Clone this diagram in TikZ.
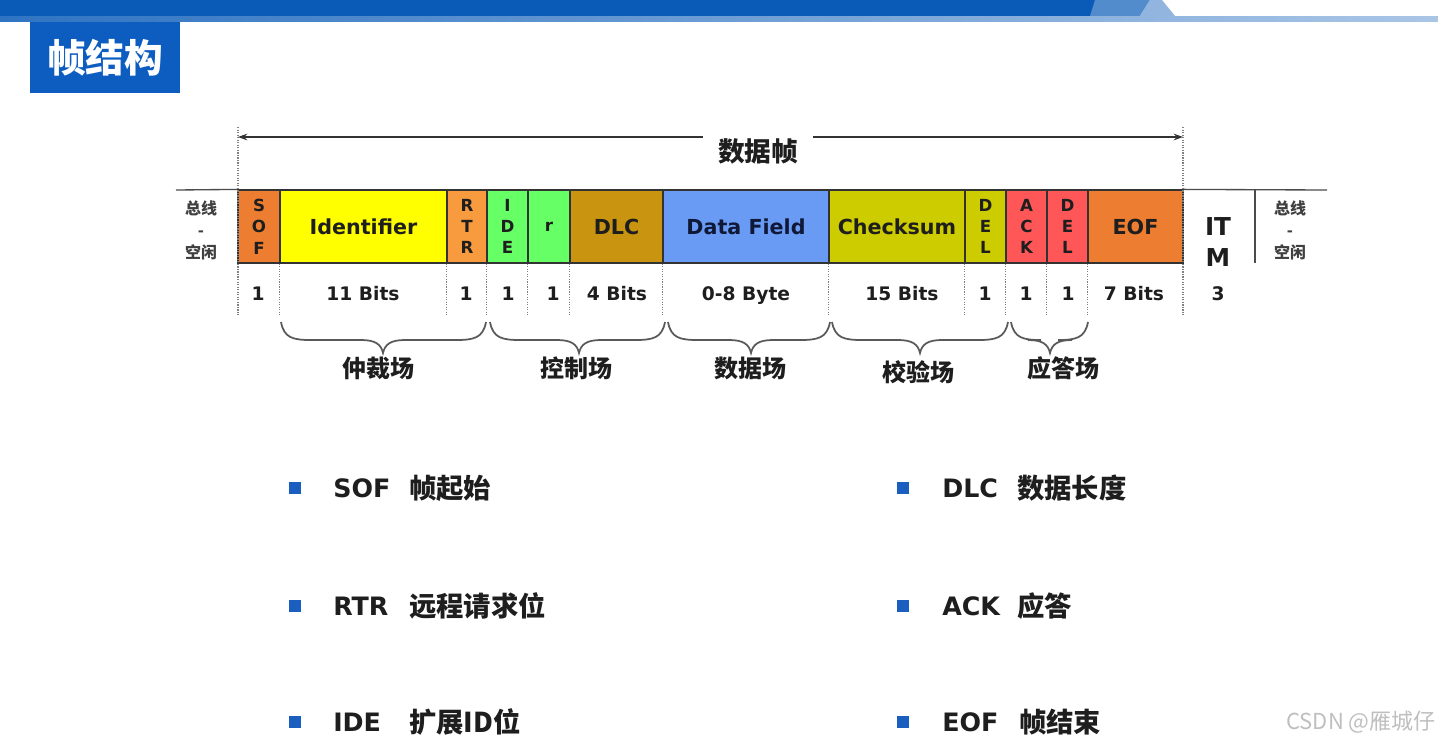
\documentclass[tikz,border=0pt]{standalone}
\usepackage{fontspec}
\setmainfont{Noto Sans CJK SC}
\newfontfamily\lat{DejaVu Sans}
\usetikzlibrary{arrows.meta}
\definecolor{cOrange}{HTML}{ED7D31}
\definecolor{cYellow}{HTML}{FFFF00}
\definecolor{cRTR}{HTML}{F89A3E}
\definecolor{cGreen}{HTML}{66FF66}
\definecolor{cDLC}{HTML}{C99510}
\definecolor{cBlue}{HTML}{6A9BF4}
\definecolor{cOlive}{HTML}{CCCC00}
\definecolor{cRed}{HTML}{FF5757}
\definecolor{cBand}{HTML}{0A5BB8}
\definecolor{cTitle}{HTML}{0D5DC0}
\definecolor{cBullet}{HTML}{1A5FBF}
\definecolor{cText}{HTML}{1E1E1E}
\definecolor{cNavy}{HTML}{101838}
\newcommand\fld[4]{\node[fbox, fill=#4, minimum width={(#3-#2)*0.75pt}] (#1) at ({(#2+#3)/2},226.5) {};}
\newcommand\cbr[3]{\draw[brc] (#1,322) .. controls (#1+3,338) and (#1+12,340) .. (#1+30,340) -- (#3-22,340) .. controls (#3-8,340) and (#3-2,344) .. (#3,353) .. controls (#3+2,344) and (#3+8,340) .. (#3+22,340) -- (#2-30,340) .. controls (#2-12,340) and (#2-3,338) .. (#2,322);}
\begin{document}
\begin{tikzpicture}[x=0.75pt,y=-0.75pt,
  fbox/.style={draw=black!80, line width=0.9pt, minimum height=54.75pt, inner sep=0pt},
  ftxt/.style={font=\lat\bfseries\fontsize{15.5}{16}\selectfont, text=cText, inner sep=0pt},
  vtxt/.style={font=\lat\bfseries\fontsize{12.5}{16}\selectfont, text=cText, align=center, inner sep=0pt},
  bits/.style={font=\lat\bfseries\fontsize{14}{16}\selectfont, text=cText, inner sep=0pt, anchor=base},
  zhs/.style={font=\bfseries\fontsize{12}{16.5}\selectfont, text=cText!85, align=center, inner sep=0pt},
  zhb/.style={font=\bfseries\fontsize{18}{20}\selectfont, text=cText, inner sep=0pt},
  dotv/.style={densely dotted, draw=gray, line width=0.9pt},
  brc/.style={draw=black!65, line width=1.3pt},
  arr/.style={draw=black!80, line width=1pt, -{Stealth[length=7pt,width=5pt]}},
  bul/.style={fill=cBullet, minimum size=9.5pt, inner sep=0pt},
  blat/.style={font=\lat\bfseries\fontsize{19}{20}\selectfont, text=cText, anchor=west, inner sep=0pt},
  bzh/.style={font=\bfseries\fontsize{20.5}{22}\selectfont, text=cText, anchor=west, inner sep=0pt}
]
\useasboundingbox (0,0) rectangle (1438,751);
\fill[white] (0,0) rectangle (1438,751);
% top banner
\fill[cBand] (0,0) rectangle (1120,16);
\fill[cBand!70!white] (1095,0) -- (1150,0) -- (1140,16) -- (1090,16) -- cycle;
\fill[cBand!45!white] (1150,0) -- (1162,0) -- (1175,16) -- (1140,16) -- cycle;
\shade[left color=cBand!85!white, right color=cBand!35!white] (0,16) rectangle (1438,21);
% title
\node[fill=cTitle, minimum width=112.5pt, minimum height=53.25pt, inner sep=0pt] (titlebox) at (105,57.5) {};
\node[font=\bfseries\fontsize{29}{30}\selectfont, text=white] (title) at (titlebox) {帧结构};
% fields
\fld{sof}{238}{280}{cOrange}
\fld{id}{280}{447}{cYellow}
\fld{rtr}{447}{487}{cRTR}
\fld{ide}{487}{528}{cGreen}
\fld{r}{528}{570}{cGreen}
\fld{dlc}{570}{663}{cDLC}
\fld{data}{663}{829}{cBlue}
\fld{crc}{829}{965}{cOlive}
\fld{cdel}{965}{1006}{cOlive}
\fld{ack}{1006}{1047}{cRed}
\fld{adel}{1047}{1088}{cRed}
\fld{eof}{1088}{1183}{cOrange}
% field texts
\node[vtxt] (tsof) at (sof) {S\\O\\F};
\node[ftxt] (tid) at (id) {Identifier};
\node[vtxt] (trtr) at (rtr) {R\\T\\R};
\node[vtxt] (tide) at (ide) {I\\D\\E};
\node[vtxt] (tr) at (r) {r};
\node[ftxt] (tdlc) at (dlc) {DLC};
\node[ftxt, text=cNavy] (tdata) at (data) {Data Field};
\node[ftxt] (tcrc) at (897,226.5) {Checksum};
\node[vtxt] (tcdel) at (cdel) {D\\E\\L};
\node[vtxt] (tack) at (ack) {A\\C\\K};
\node[vtxt] (tadel) at (adel) {D\\E\\L};
\node[ftxt] (teof) at (eof) {EOF};
\node[font=\lat\bfseries\fontsize{18.5}{23.5}\selectfont, text=cText, align=center, inner sep=0pt] (itm) at (1218,242) {IT\\M};
% bus lines
\coordinate (busL) at (176,190);
\coordinate (busR) at (1327,190);
\coordinate (itmTop) at (1255,190);
\coordinate (itmBot) at (1255,263);
\draw[black!70, line width=1pt] (busL) -- (sof.north west);
\draw[black!70, line width=1pt] (eof.north east) -- (busR);
\draw[black!70, line width=1.2pt] (itmTop) -- (itmBot);
\node[zhs] (idleL) at (201,230) {总线\\-\\空闲};
\node[zhs] (idleR) at (1290,230) {总线\\-\\空闲};
% dotted lines
\coordinate (dA) at (238,127);
\coordinate (dB) at (1183,127);
\draw[dotv] (dA) -- (238,315);
\draw[dotv] (dB) -- (1183,315);
\foreach \n in {id,rtr,ide,r,dlc,data,crc,cdel,ack,adel,eof}
  \draw[dotv] (\n.south west) -- ++(0,52);
% frame arrow
\node[font=\bfseries\fontsize{20}{22}\selectfont, text=cText, inner sep=0pt] (frame) at (758,151) {数据帧};
\coordinate (aL) at (238,137);
\coordinate (aR) at (1183,137);
\coordinate (aLs) at (703,137);
\coordinate (aRs) at (813,137);
\draw[arr] (aLs) -- (aL);
\draw[arr] (aRs) -- (aR);
% bit counts
\node[bits] (b1) at (258,300.5) {1};
\node[bits] (b2) at (363,300.5) {11 Bits};
\node[bits] (b3) at (466,300.5) {1};
\node[bits] (b4) at (508,300.5) {1};
\node[bits] (b5) at (553,300.5) {1};
\node[bits] (b6) at (617,300.5) {4 Bits};
\node[bits] (b7) at (746,300.5) {0-8 Byte};
\node[bits] (b8) at (902,300.5) {15 Bits};
\node[bits] (b9) at (985,300.5) {1};
\node[bits] (b10) at (1026,300.5) {1};
\node[bits] (b11) at (1068,300.5) {1};
\node[bits] (b12) at (1134,300.5) {7 Bits};
\node[bits] (b13) at (1218,300.5) {3};
% braces
\cbr{281}{486}{383}
\cbr{490}{665}{579}
\cbr{668}{830}{751}
\cbr{832}{1008}{920}
\cbr{1011}{1088}{1050}
\node[zhb] (g1) at (378,368) {仲裁场};
\node[zhb] (g2) at (576,368) {控制场};
\node[zhb] (g3) at (750,368) {数据场};
\node[zhb] (g4) at (918,372) {校验场};
\node[zhb] (g5) at (1063,368) {应答场};
% bullets
\node[bul] (s1) at (295,488) {};
\node[bul] (s2) at (295,606) {};
\node[bul] (s3) at (295,722) {};
\node[bul] (s4) at (903,488) {};
\node[bul] (s5) at (903,606) {};
\node[bul] (s6) at (903,722) {};
\node[blat] (l1) at (333,488) {SOF};
\node[bzh] (z1) at (409,488) {帧起始};
\node[blat] (l2) at (333,606) {RTR};
\node[bzh] (z2) at (409,606) {远程请求位};
\node[blat] (l3) at (333,722) {IDE};
\node[bzh] (z3) at (409,722) {扩展ID位};
\node[blat] (l4) at (942,488) {DLC};
\node[bzh] (z4) at (1017,488) {数据长度};
\node[blat] (l5) at (942,606) {ACK};
\node[bzh] (z5) at (1017,606) {应答};
\node[blat] (l6) at (942,722) {EOF};
\node[bzh] (z6) at (1019,722) {帧结束};
% watermark
\node[font=\fontsize{16.5}{18}\selectfont, text=black!25, anchor=east, inner sep=0pt] (wm) at (1436,722) {CSDN @雁城仔};
\end{tikzpicture}
\end{document}
